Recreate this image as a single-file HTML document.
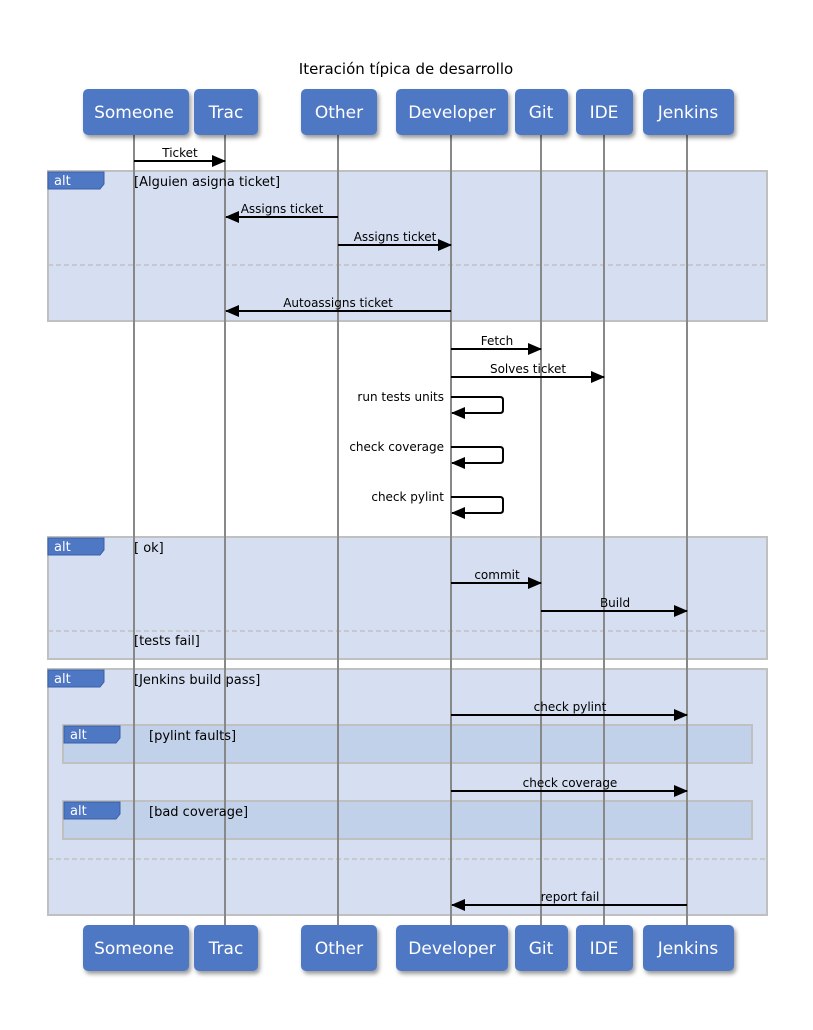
<!DOCTYPE html>
<html><head><style>body{margin:0;background:#fff}text{font-family:"DejaVu Sans","Liberation Sans",sans-serif}</style></head><body>
<svg width="813" height="1025" xmlns="http://www.w3.org/2000/svg">
<defs>
<marker id="a" markerWidth="14" markerHeight="12" refX="13" refY="6" orient="auto" markerUnits="userSpaceOnUse"><path d="M0,0 L14,6 L0,12 z" fill="#000"/></marker>
<filter id="s"><feDropShadow dx="2" dy="3" stdDeviation="2" flood-opacity="0.4"/></filter>
</defs>
<text x="406" y="74" font-size="15" text-anchor="middle">Iteración típica de desarrollo</text>
<g stroke="#c0c0c0" stroke-width="2">
<rect x="48" y="171" width="719" height="150" fill="#d6dff2"/>
<rect x="48" y="537" width="719" height="122" fill="#d6dff2"/>
<rect x="48" y="669" width="719" height="246" fill="#d6dff2"/>
<rect x="63" y="725" width="689" height="38" fill="#c2d1ea"/>
<rect x="63" y="801" width="689" height="38" fill="#c2d1ea"/>
</g>
<g stroke="#c0c0c0" stroke-width="1.5" stroke-dasharray="5,3">
<line x1="48" y1="265" x2="767" y2="265"/><line x1="48" y1="631" x2="767" y2="631"/><line x1="48" y1="859" x2="767" y2="859"/>
</g>
<g stroke="#888" stroke-width="2">
<line x1="134" y1="135" x2="134" y2="925"/><line x1="225" y1="135" x2="225" y2="925"/><line x1="338" y1="135" x2="338" y2="925"/><line x1="451" y1="135" x2="451" y2="925"/><line x1="541" y1="135" x2="541" y2="925"/><line x1="604" y1="135" x2="604" y2="925"/><line x1="687" y1="135" x2="687" y2="925"/>
</g>
<g fill="#4f78c4" stroke="#3a5fa8">
<path d="M48,172 H104 V184 L100,189 H48 z"/><path d="M48,538 H104 V550 L100,555 H48 z"/><path d="M48,670 H104 V682 L100,687 H48 z"/>
<path d="M64,726 H120 V738 L116,743 H64 z"/><path d="M64,802 H120 V814 L116,819 H64 z"/>
</g>
<g fill="#fff" font-size="13">
<text x="54" y="185">alt</text><text x="54" y="551">alt</text><text x="54" y="683">alt</text><text x="70" y="739">alt</text><text x="70" y="815">alt</text>
</g>
<g font-size="13">
<text x="134" y="186">[Alguien asigna ticket]</text><text x="134" y="552">[ ok]</text><text x="134" y="645">[tests fail]</text><text x="134" y="684">[Jenkins build pass]</text><text x="149" y="740">[pylint faults]</text><text x="149" y="816">[bad coverage]</text>
</g>
<g stroke="#000" stroke-width="2" fill="none" marker-end="url(#a)">
<line x1="134" y1="161" x2="225" y2="161"/>
<line x1="338" y1="217" x2="226" y2="217"/>
<line x1="338" y1="245" x2="451" y2="245"/>
<line x1="451" y1="311" x2="226" y2="311"/>
<line x1="451" y1="349" x2="541" y2="349"/>
<line x1="451" y1="377" x2="604" y2="377"/>
<path d="M451,397 H500 Q503,397 503,400 V410 Q503,413 500,413 H452"/>
<path d="M451,447 H500 Q503,447 503,450 V460 Q503,463 500,463 H452"/>
<path d="M451,497 H500 Q503,497 503,500 V510 Q503,513 500,513 H452"/>
<line x1="451" y1="583" x2="541" y2="583"/>
<line x1="541" y1="611" x2="687" y2="611"/>
<line x1="451" y1="715" x2="687" y2="715"/>
<line x1="451" y1="791" x2="687" y2="791"/>
<line x1="687" y1="905" x2="452" y2="905"/>
</g>
<g font-size="12" text-anchor="middle">
<text x="180" y="157">Ticket</text><text x="282" y="213">Assigns ticket</text><text x="395" y="241">Assigns ticket</text><text x="338" y="307">Autoassigns ticket</text><text x="497" y="345">Fetch</text><text x="528" y="373">Solves ticket</text>
<text x="497" y="579">commit</text><text x="615" y="607">Build</text><text x="570" y="711">check pylint</text><text x="570" y="787">check coverage</text><text x="570" y="901">report fail</text>
</g>
<g font-size="12" text-anchor="end">
<text x="444" y="401">run tests units</text><text x="444" y="451">check coverage</text><text x="444" y="501">check pylint</text>
</g>
<g fill="#4f78c4" filter="url(#s)">
<rect x="83" y="89" width="106" height="46" rx="5"/><rect x="194" y="89" width="64" height="46" rx="5"/><rect x="301" y="89" width="76" height="46" rx="5"/><rect x="396" y="89" width="112" height="46" rx="5"/><rect x="515" y="89" width="53" height="46" rx="5"/><rect x="576" y="89" width="57" height="46" rx="5"/><rect x="643" y="89" width="91" height="46" rx="5"/>
<rect x="83" y="925" width="106" height="46" rx="5"/><rect x="194" y="925" width="64" height="46" rx="5"/><rect x="301" y="925" width="76" height="46" rx="5"/><rect x="396" y="925" width="112" height="46" rx="5"/><rect x="515" y="925" width="53" height="46" rx="5"/><rect x="576" y="925" width="57" height="46" rx="5"/><rect x="643" y="925" width="91" height="46" rx="5"/>
</g>
<g fill="#fff" font-size="17" text-anchor="middle">
<text x="134" y="118">Someone</text><text x="226" y="118">Trac</text><text x="339" y="118">Other</text><text x="452" y="118">Developer</text><text x="541" y="118">Git</text><text x="604" y="118">IDE</text><text x="688" y="118">Jenkins</text>
<text x="134" y="954">Someone</text><text x="226" y="954">Trac</text><text x="339" y="954">Other</text><text x="452" y="954">Developer</text><text x="541" y="954">Git</text><text x="604" y="954">IDE</text><text x="688" y="954">Jenkins</text>
</g>
</svg>
</body></html>
